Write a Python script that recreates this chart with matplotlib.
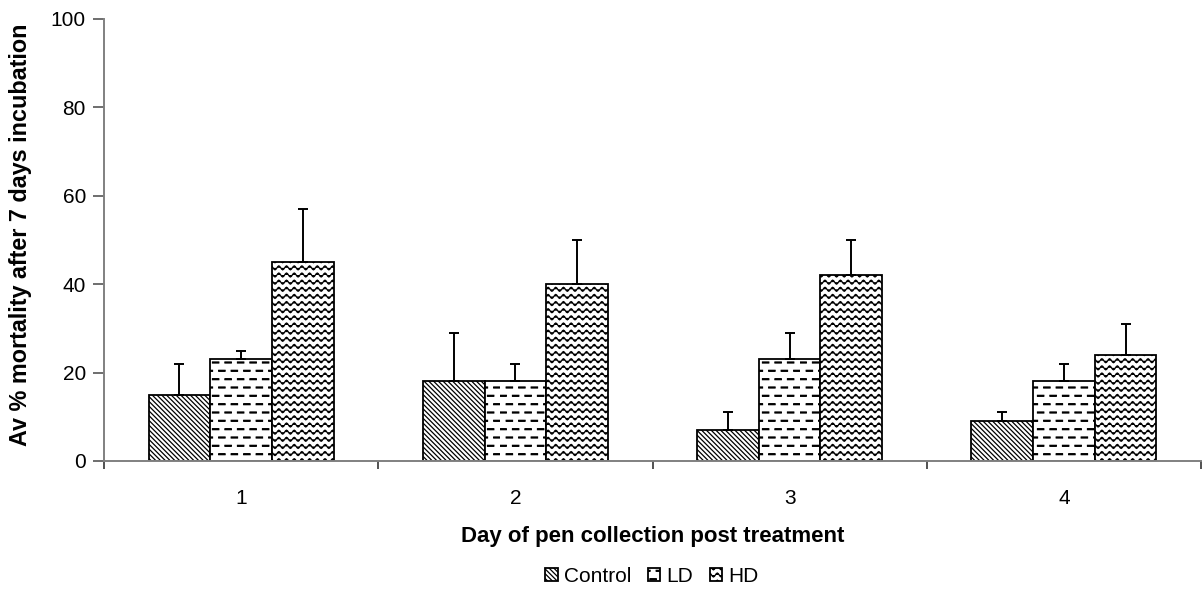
import warnings
import numpy as np
import matplotlib
matplotlib.use("Agg")
import matplotlib.pyplot as plt
import matplotlib.hatch as mhatch
from matplotlib.path import Path

warnings.filterwarnings("ignore")

# ---- data ----
days = ["1", "2", "3", "4"]
series = ["Control", "LD", "HD"]
control = [15, 18, 7, 9]
ld = [23, 18, 23, 18]
hd = [45, 40, 42, 24]
control_err = [7, 11, 4, 2]
ld_err = [2, 4, 6, 4]
hd_err = [12, 10, 8, 7]


# ---- custom hatch patterns ----
class WaveHatch(mhatch.HatchPatternBase):
    rows = 14
    periods = 13
    samples = 13 * 8 + 1

    def __init__(self, hatch, density):
        self.n = hatch.count('~')
        self.num_vertices = (self.rows * self.samples) if self.n else 0

    def set_vertices_and_codes(self, vertices, codes):
        x = np.linspace(0, 1, self.samples)
        amp = 0.02
        for r in range(self.rows):
            y0 = (r + 0.5) / self.rows
            sl = slice(r * self.samples, (r + 1) * self.samples)
            vertices[sl, 0] = x
            vertices[sl, 1] = y0 + amp * np.sin(2 * np.pi * self.periods * x)
            codes[sl] = Path.LINETO
            codes[r * self.samples] = Path.MOVETO


class DashHatch(mhatch.HatchPatternBase):
    rows = 12
    per_row = 8
    thick = (-0.005, 0.005)

    def __init__(self, hatch, density):
        self.n = hatch.count('_')
        self.num_vertices = (self.rows * self.per_row * 2 * len(self.thick)) if self.n else 0

    def set_vertices_and_codes(self, vertices, codes):
        half = 0.031
        i = 0
        for r in range(self.rows):
            off = 0.25 if r % 2 == 0 else 0.75
            for dy in self.thick:
                y = (r + 0.5) / self.rows + dy
                for k in range(self.per_row):
                    c = (k + off) / self.per_row
                    vertices[i] = (c - half, y)
                    vertices[i + 1] = (c + half, y)
                    codes[i] = Path.MOVETO
                    codes[i + 1] = Path.LINETO
                    i += 2


mhatch._hatch_types.append(WaveHatch)
mhatch._hatch_types.append(DashHatch)

plt.rcParams['font.family'] = ['Liberation Sans', 'DejaVu Sans']
plt.rcParams['hatch.linewidth'] = 0.9

fig = plt.figure(figsize=(12.02, 5.98), dpi=100)
ax = fig.add_axes([104 / 1202, 1 - 461 / 598, (1201 - 104) / 1202, (461 - 19) / 598])

x = np.arange(len(days))
w = 0.225
vals = [control, ld, hd]
errs = [control_err, ld_err, hd_err]
hatches = ['\\' * 7, '_', '~']
for i, (v, e, h, name) in enumerate(zip(vals, errs, hatches, series)):
    pos = x + (i - 1) * w
    ax.bar(pos, v, width=w, facecolor='white', edgecolor='black', linewidth=1.3,
           hatch=h, label=name, zorder=2)
    ax.errorbar(pos, v, yerr=[np.zeros(len(e)), e], fmt='none', ecolor='black',
                elinewidth=1.4, capsize=3.6, capthick=1.4, zorder=3)

ax.set_xlim(-0.5, len(days) - 0.5)
ax.set_ylim(0, 100)
ax.set_yticks(range(0, 101, 20))
ax.set_xticks(x)
ax.set_xticklabels(days)
ax.set_xticks(np.arange(-0.5, len(days)), minor=True)
ax.tick_params(axis='x', which='major', length=0, labelsize=15, pad=20)
ax.tick_params(axis='x', which='minor', length=6, color='#333333', width=1.2)
ax.tick_params(axis='y', length=8, color='#555555', width=1.2, labelsize=15, pad=5)
for s in ['top', 'right']:
    ax.spines[s].set_visible(False)
for s in ['left', 'bottom']:
    ax.spines[s].set_color('#808080')
    ax.spines[s].set_linewidth(1.4)

ax.set_xlabel("Day of pen collection post treatment", fontsize=16, fontweight='bold', labelpad=13)
ax.set_ylabel("Av % mortality after 7 days incubation", fontsize=16.8,
              fontweight='bold', labelpad=11)
ax.yaxis.set_label_coords(-0.0655, 0.513)

fig.legend(loc='center', bbox_to_anchor=(652 / 1202, 1 - 576 / 598), ncol=3, frameon=False,
           fontsize=15, handlelength=0.6, handleheight=0.6, handletextpad=0.3,
           columnspacing=0.8)

fig.savefig("out.png", dpi=100)
